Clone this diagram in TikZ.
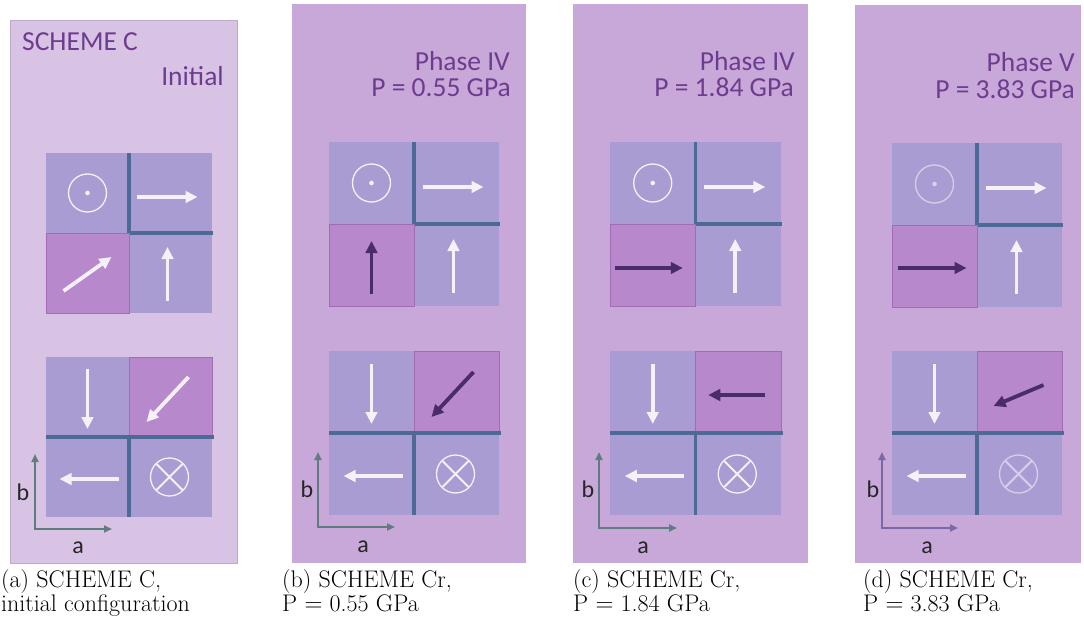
\documentclass[tikz,border=0pt]{standalone}
\usepackage{fontspec}
\newfontfamily\calib{Carlito}
\usetikzlibrary{arrows.meta}

\definecolor{paperA}{HTML}{D9C3E4}
\definecolor{paperB}{HTML}{C8A8D8}
\definecolor{paperedge}{HTML}{BBAAC8}
\definecolor{cellblue}{HTML}{A99CD3}
\definecolor{cellmag}{HTML}{B788CB}
\definecolor{magedge}{HTML}{A26CB4}
\definecolor{gridline}{HTML}{4B6A95}
\definecolor{labelpurple}{HTML}{6E3C8F}
\definecolor{spinwhite}{HTML}{F6F0F8}
\definecolor{spindark}{HTML}{4A2B6C}
\definecolor{axisgray}{HTML}{5F7D80}
\definecolor{axispurple}{HTML}{7868A6}

\tikzset{
  spinw/.style={draw=spinwhite, line width=3.8pt,
    -{Triangle[length=12pt,width=11.5pt]}},
  spind/.style={draw=spindark, line width=3.8pt,
    -{Triangle[length=12pt,width=11.5pt]}},
  ringline/.style={draw=spinwhite, line width=1.3pt},
  gridbar/.style={draw=gridline, line width=3.4pt, line join=miter},
  magcell/.style={fill=cellmag, draw=magedge, line width=0.9pt},
  axisline/.style={line width=2pt,
    {Triangle[length=8pt,width=7pt]}-{Triangle[length=8pt,width=7pt]}},
  axlabel/.style={font=\calib\fontsize{24}{24}\selectfont, text=black!85,
    inner sep=0pt},
  headtext/.style={font=\calib\fontsize{27.5}{27}\selectfont,
    text=labelpurple, inner sep=0pt},
  captext/.style={font=\fontsize{24}{28}\selectfont, inner sep=0pt,
    anchor=base west},
}

% Two 2x2 blocks of magnetic moments.
% #1 left edge, #2 top of upper block, #3 top of lower block,
% #4 cell width, #5 cell height, #6 opacity of the ring symbols
\newcommand{\spingrids}[6]{%
  \pgfmathsetmacro{\cxL}{#1+0.5*#4}%
  \pgfmathsetmacro{\cxR}{#1+1.5*#4}%
  \pgfmathsetmacro{\cyA}{#2+0.5*#5}%
  \pgfmathsetmacro{\cyB}{#2+1.5*#5}%
  \pgfmathsetmacro{\cyC}{#3+0.5*#5}%
  \pgfmathsetmacro{\cyD}{#3+1.5*#5}%
  \pgfmathsetmacro{\gxM}{#1+#4}%
  \pgfmathsetmacro{\gxR}{#1+2*#4}%
  \pgfmathsetmacro{\gyU}{#2+#5}%
  \pgfmathsetmacro{\gyUb}{#2+2*#5}%
  \pgfmathsetmacro{\gyL}{#3+#5}%
  \pgfmathsetmacro{\gyLb}{#3+2*#5}%
  % upper block
  \fill[cellblue] (#1,#2) rectangle (\gxR,\gyUb);
  \draw[gridbar] (\gxM,#2) -- (\gxM,\gyU) -- ({\gxR+1},\gyU);
  \draw[magcell] (#1,\gyU) rectangle (\gxM,\gyUb);
  % lower block
  \fill[cellblue] (#1,#3) rectangle (\gxR,\gyLb);
  \draw[magcell] (\gxM,#3) rectangle (\gxR,\gyL);
  \draw[gridbar] (#1,\gyL) -- ({\gxR+2},\gyL);
  \draw[gridbar] (\gxM,\gyL) -- (\gxM,\gyLb);
  % moment out of the plane
  \draw[ringline, opacity=#6] (\cxL,\cyA) circle[radius=19pt];
  \fill[spinwhite, opacity=#6] (\cxL,\cyA) circle[radius=2.3pt];
  % in-plane moments common to all configurations
  \draw[spinw] ({\cxR-34},{\cyA+4}) -- ({\cxR+27},{\cyA+4});
  \draw[spinw] ({\cxR-3},{\cyB+28}) -- ({\cxR-3},{\cyB-26});
  \draw[spinw] (\cxL,{\cyC-28}) -- (\cxL,{\cyC+32});
  \draw[spinw] ({\cxL+31},{\cyD+2}) -- ({\cxL-28},{\cyD+2});
  % moment into the plane
  \draw[ringline, opacity=#6] ({\cxR-1},\cyD) circle[radius=19pt];
  \draw[ringline, line width=1.8pt, opacity=#6]
    ({\cxR-14},{\cyD-13}) -- ({\cxR+12},{\cyD+13})
    ({\cxR-14},{\cyD+13}) -- ({\cxR+12},{\cyD-13});
}

\begin{document}
\begin{tikzpicture}[x=1pt,y=-1pt]
\useasboundingbox (0,0) rectangle (1084,639);
\fill[white] (0,0) rectangle (1084,639);

% panel backgrounds
\draw[fill=paperA, draw=paperedge, line width=0.8pt] (10,20) rectangle (237,563);
\fill[paperB] (292,4) rectangle (526,563);
\fill[paperB] (573,4) rectangle (808,563);
\fill[paperB] (855,5) rectangle (1081,563);

% ---------- (a) initial configuration ----------
\node[headtext, anchor=base west] (titleA) at (22,51) {SCHEME C};
\node[headtext, anchor=base east] (stateA) at (224,86) {Initial};
\spingrids{46}{153}{357}{83}{80}{1}
\draw[spinw] ({\cxL-24},{\cyB+18}) -- ({\cxL+24},{\cyB-16});
\draw[spinw] ({\cxR+18},{\cyC-20}) -- ({\cxR-24},{\cyC+25});
\coordinate (oA) at (35,529);
\draw[axisline, axisgray] ([yshift=75pt]oA) -- (oA) -- ([xshift=77pt]oA);
\node[axlabel] (bA) at ([xshift=-12pt,yshift=37pt]oA) {b};
\node[axlabel] (aA) at ([xshift=43pt,yshift=-19pt]oA) {a};

% ---------- (b) P = 0.55 GPa ----------
\node[headtext, anchor=base east] (phaseB) at (510,71) {Phase IV};
\node[headtext, anchor=base east] (presB) at (511,97) {P = 0.55 GPa};
\spingrids{329}{142}{351}{85}{82}{1}
\draw[spind] (\cxL,{\cyB+29}) -- (\cxL,{\cyB-24});
\draw[spind] ({\cxR+17},{\cyC-20}) -- ({\cxR-25},{\cyC+25});
\coordinate (oB) at (318,527);
\draw[axisline, axisgray] ([yshift=75pt]oB) -- (oB) -- ([xshift=77pt]oB);
\node[axlabel] (bB) at ([xshift=-11pt,yshift=38pt]oB) {b};
\node[axlabel] (aB) at ([xshift=45pt,yshift=-20pt]oB) {a};

% ---------- (c) P = 1.84 GPa ----------
\node[headtext, anchor=base east] (phaseC) at (795,71) {Phase IV};
\node[headtext, anchor=base east] (presC) at (794,97) {P = 1.84 GPa};
\spingrids{610}{142}{351}{85.5}{82}{1}
\draw[spind] ({\cxL-38},{\cyB+3}) -- ({\cxL+30},{\cyB+3});
\draw[spind] ({\cxR+27},{\cyC+3}) -- ({\cxR-30},{\cyC+3});
\coordinate (oC) at (599,528);
\draw[axisline, axisgray] ([yshift=76pt]oC) -- (oC) -- ([xshift=78pt]oC);
\node[axlabel] (bC) at ([xshift=-11pt,yshift=39pt]oC) {b};
\node[axlabel] (aC) at ([xshift=44pt,yshift=-20pt]oC) {a};

% ---------- (d) P = 3.83 GPa ----------
\node[headtext, anchor=base east] (phaseD) at (1075,72) {Phase V};
\node[headtext, anchor=base east] (presD) at (1075,99) {P = 3.83 GPa};
\spingrids{892}{143}{351}{85}{82}{0.6}
\draw[spind] ({\cxL-37},{\cyB+2}) -- ({\cxL+32},{\cyB+2});
\draw[spind] ({\cxR+24},{\cyC-7}) -- ({\cxR-26},{\cyC+14});
\coordinate (oD) at (882,528);
\draw[axisline, axispurple] ([yshift=76pt]oD) -- (oD) -- ([xshift=76pt]oD);
\node[axlabel] (bD) at ([xshift=-9pt,yshift=39pt]oD) {b};
\node[axlabel] (aD) at ([xshift=45pt,yshift=-20pt]oD) {a};

% ---------- captions ----------
\node[captext] (capA1) at (1,587) {(a) SCHEME C,};
\node[captext] (capA2) at (1,611) {initial configuration};
\node[captext] (capB1) at (282,587) {(b) SCHEME Cr,};
\node[captext] (capB2) at (282,611) {P $=$ 0.55 GPa};
\node[captext] (capC1) at (573,587) {(c) SCHEME Cr,};
\node[captext] (capC2) at (573,611) {P $=$ 1.84 GPa};
\node[captext] (capD1) at (863,587) {(d) SCHEME Cr,};
\node[captext] (capD2) at (863,611) {P $=$ 3.83 GPa};
\end{tikzpicture}
\end{document}
